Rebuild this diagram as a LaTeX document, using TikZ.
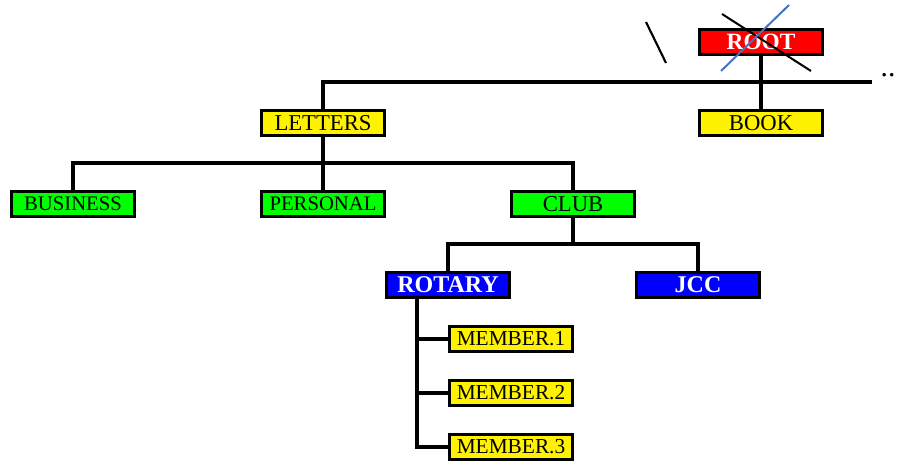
\documentclass[tikz,border=0pt]{standalone}
\usepackage{fontspec}
\setmainfont{Liberation Serif}
\usepackage{tikz}
\usetikzlibrary{positioning}
\definecolor{crossblue}{RGB}{68,114,196}

\begin{document}
\begin{tikzpicture}[x=0.75pt,y=-0.75pt]
    \tikzstyle{box} = [draw, line width=2.3pt, rectangle, minimum
    width=92pt, minimum height=19pt, inner sep=0pt, font=\fontsize{16}{16}\selectfont]
    \tikzstyle{yel} = [box, fill=yellow]
    \tikzstyle{grn} = [box, fill=green, font=\fontsize{15.5}{15.5}\selectfont]
    \tikzstyle{blu} = [box, fill=blue, text=white, font=\fontsize{18}{18}\selectfont\bfseries]
    \tikzstyle{conn} = [line width=2.8pt]
    \useasboundingbox (0,0) rectangle (898,460);
    % boxes
    \node[box, fill=red, text=white, font=\fontsize{17.5}{17.5}\selectfont\bfseries]
    (root) at (761,42) {ROOT};
    \node[yel, font=\fontsize{17}{17}\selectfont] (book) at (761,123) {BOOK};
    \node[yel, font=\fontsize{17}{17}\selectfont] (letters) at (323,123) {LETTERS};
    \node[grn] (business) at (73,204) {BUSINESS};
    \node[grn] (personal) at (323,204) {PERSONAL};
    \node[grn, font=\fontsize{17}{17}\selectfont] (club) at (573,204) {CLUB};
    \node[blu] (rotary) at (448,285) {ROTARY};
    \node[blu] (jcc) at (698,285) {JCC};
    \foreach \i in {1,2,3}
      \node[yel] (member\i) at (511,285+54*\i) {MEMBER.\i};
    \node[font=\fontsize{22}{22}\selectfont] (more) at (888,75) {..};
    % connectors
    \coordinate (busend) at (872,82);
    \coordinate (lsplit) at (323,163);
    \coordinate (csplit) at (573,244);
    \coordinate (rtrunk) at (417,299);
    \draw[conn] (letters.north) |- (busend);
    \draw[conn] (root) -- (book);
    \draw[conn] (letters.south) -- (lsplit);
    \draw[conn] (business.north) |- (lsplit) -| (club.north);
    \draw[conn] (lsplit) -- (personal.north);
    \draw[conn] (club.south) -- (csplit);
    \draw[conn] (rotary.north) |- (csplit) -| (jcc.north);
    \draw[conn] (rtrunk) |- (member3.west);
    \foreach \i in {1,2}
      \draw[conn] (rtrunk |- member\i.west) -- (member\i.west);
    % crossing out
    \draw[line width=1.6pt] (646,22) -- (666,63);
    \draw[line width=1.5pt] (722,14) -- (811,71);
    \draw[line width=1.5pt, crossblue] (789,5) -- (721,71);
  \end{tikzpicture}
\end{document}
